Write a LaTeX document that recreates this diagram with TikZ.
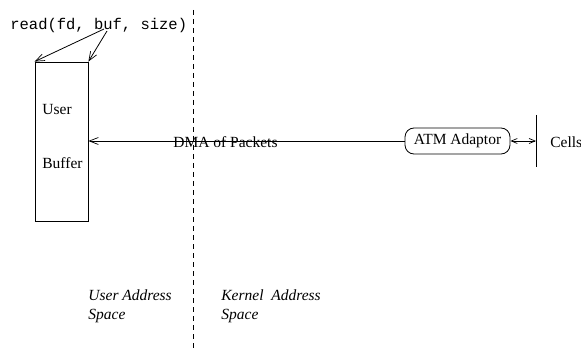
\documentclass[tikz,border=0pt]{standalone}
\usepackage{fontspec}
\setmainfont{Liberation Serif}
\setmonofont{Liberation Mono}
\usetikzlibrary{arrows.meta}
\begin{document}
\begin{tikzpicture}[x=1pt,y=-1pt,
  line width=0.8pt,
  txt/.style={inner sep=0pt,font=\fontsize{15.5}{18}\selectfont},
  mono/.style={inner sep=0pt,font=\fontsize{15.5}{18}\selectfont\ttfamily},
  slab/.style={inner sep=0pt,font=\fontsize{15.5}{18}\selectfont\itshape},
  barb/.style={-{Straight Barb[length=9pt,width=7pt,line width=0.7pt]}},
  smallbarb/.style={{Straight Barb[length=6pt,width=5pt,line width=0.7pt]}-{Straight Barb[length=6pt,width=5pt,line width=0.7pt]}},
  divider/.style={dash pattern=on 5pt off 4pt},
  bufbox/.style={draw,minimum width=53pt,minimum height=159pt,inner sep=0pt},
  adaptor/.style={draw,rounded corners=9pt,minimum width=105pt,minimum height=26pt,inner sep=0pt,font=\fontsize{15.5}{18}\selectfont}]
  \useasboundingbox (0,0) rectangle (581,350);

  % system call and its arguments
  \node[mono,anchor=base west] (call) at (10,30) {read(fd, buf, size)};
  \coordinate (fdarg) at (104,29);
  \coordinate (sizearg) at (107,31);

  % user buffer
  \node[bufbox] (buf) at (61.5,141.5) {};
  \node[txt,anchor=base west] (user) at (42,115) {User};
  \node[txt,anchor=base west] (buffer) at (42,168) {Buffer};
  \draw[barb] (fdarg) -- (buf.north west);
  \draw[barb] (sizearg) -- (buf.north east);

  % boundary between address spaces
  \coordinate (dtop) at (193,10);
  \coordinate (dbot) at (193,350);
  \draw[divider] (dtop) -- (dbot);

  % adaptor and the network side
  \node[adaptor] (atm) at (457.5,141) {ATM Adaptor};
  \coordinate (wire) at (536,141);
  \coordinate (wtop) at (536,115);
  \coordinate (wbot) at (536,167);
  \draw (wtop) -- (wbot);
  \draw[smallbarb] (atm.east) -- (wire);
  \node[txt,anchor=base west] (cells) at (550,147) {Cells};

  % DMA transfer into the user buffer
  \draw[barb] (atm.west) -- (buf.east |- atm.west);
  \node[txt,anchor=base west] (dma) at (173,147) {DMA of Packets};

  % address space labels
  \node[slab,anchor=base west] (ua1) at (88,300) {User Address};
  \node[slab,anchor=base west] (ua2) at (88,319) {Space};
  \node[slab,anchor=base west] (ka1) at (221,300) {Kernel\ \ Address};
  \node[slab,anchor=base west] (ka2) at (221,319) {Space};
\end{tikzpicture}
\end{document}
